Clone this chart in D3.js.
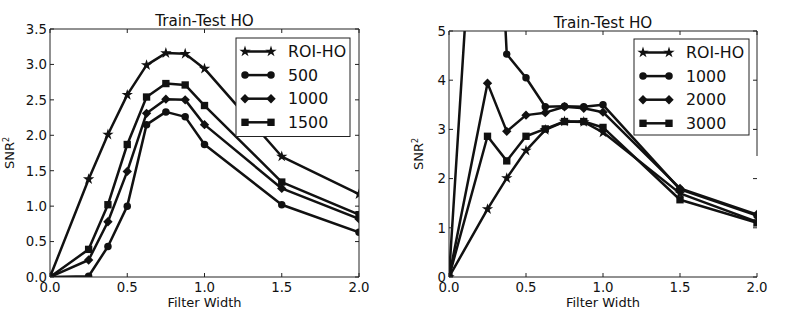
<!DOCTYPE html>
<html><head><meta charset="utf-8">
<script src="https://cdn.jsdelivr.net/npm/d3@7/dist/d3.min.js"></script>
<style>body{margin:0;background:#fff}svg{display:block;font-family:"DejaVu Sans",sans-serif}</style>
</head><body><svg id="c" width="797" height="309"></svg>
<script>
const filterWidths = [0, 0.25, 0.375, 0.5, 0.625, 0.75, 0.875, 1.0, 1.5, 2.0];
// Left panel
const leftNames = ["ROI-HO", "500", "1000", "1500"];
const leftROI  = [0, 1.38, 2.01, 2.57, 2.99, 3.16, 3.15, 2.94, 1.70, 1.17];
const left500  = [0, 0.01, 0.43, 1.00, 2.15, 2.33, 2.26, 1.87, 1.02, 0.63];
const left1000 = [0, 0.24, 0.78, 1.49, 2.31, 2.51, 2.50, 2.15, 1.25, 0.82];
const left1500 = [0, 0.39, 1.02, 1.87, 2.54, 2.73, 2.71, 2.42, 1.34, 0.88];
const leftYTicks = [0, 0.5, 1.0, 1.5, 2.0, 2.5, 3.0, 3.5];
// Right panel
const rightNames = ["ROI-HO", "1000", "2000", "3000"];
const rightROI  = [0, 1.38, 2.01, 2.57, 2.99, 3.16, 3.15, 2.94, 1.70, 1.12];
const right1000 = [0, 12.3, 4.53, 4.05, 3.46, 3.47, 3.46, 3.50, 1.78, 1.25];
const right2000 = [0, 3.94, 2.96, 3.29, 3.34, 3.46, 3.43, 3.35, 1.80, 1.27];
const right3000 = [0, 2.86, 2.36, 2.86, 3.01, 3.16, 3.16, 3.04, 1.57, 1.10];
const rightYTicks = [0, 1, 2, 3, 4, 5];
const xTicks = [0, 0.5, 1.0, 1.5, 2.0];
const markers = ["star", "circle", "diamond", "square"];

const svg = d3.select("#c");

function markerPath(type) {
  if (type === "star") return d3.symbol(d3.symbolStar, 40)();
  if (type === "circle") return d3.symbol(d3.symbolCircle, 44)();
  if (type === "diamond") return d3.symbol(d3.symbolSquare, 44)();
  return d3.symbol(d3.symbolSquare, 54)();
}
function markerRot(type) { return type === "diamond" ? 45 : 0; }

function panel(opt) {
  const {x0, x1, y0, y1, yMax, yTicks, yFmt, series, names, id, legend, rightSpineEnd, ylOff} = opt;
  const x = d3.scaleLinear().domain([0, 2]).range([x0, x1]);
  const y = d3.scaleLinear().domain([0, yMax]).range([y1, y0]);
  const g = svg.append("g");
  g.append("clipPath").attr("id", id).append("rect")
    .attr("x", x0).attr("y", y0).attr("width", x1 - x0).attr("height", y1 - y0);
  const plot = g.append("g").attr("clip-path", `url(#${id})`);
  const line = d3.line().x((d, i) => x(filterWidths[i])).y(d => y(d));
  series.forEach((s, k) => {
    plot.append("path").datum(s).attr("d", line).attr("fill", "none")
      .attr("stroke", "#111").attr("stroke-width", 2.5).attr("stroke-linejoin", "round");
    plot.selectAll(null).data(s).enter().append("path")
      .attr("d", markerPath(markers[k]))
      .attr("transform", (d, i) => `translate(${x(filterWidths[i])},${y(d)}) rotate(${markerRot(markers[k])})`)
      .attr("fill", "#111");
  });
  // spines
  const sp = "#222";
  g.append("line").attr("x1", x0).attr("x2", x0).attr("y1", y0).attr("y2", y1).attr("stroke", sp);
  g.append("line").attr("x1", x0).attr("x2", x1).attr("y1", y1).attr("y2", y1).attr("stroke", sp);
  g.append("line").attr("x1", x0).attr("x2", x1).attr("y1", y0).attr("y2", y0).attr("stroke", sp);
  g.append("line").attr("x1", x1).attr("x2", x1).attr("y1", y0).attr("y2", rightSpineEnd || y1).attr("stroke", sp);
  // ticks
  yTicks.forEach(t => {
    g.append("line").attr("x1", x0).attr("x2", x0 + 4).attr("y1", y(t)).attr("y2", y(t)).attr("stroke", sp);
    g.append("line").attr("x1", x1).attr("x2", x1 - 4).attr("y1", y(t)).attr("y2", y(t)).attr("stroke", sp);
    g.append("text").attr("x", x0 - 3).attr("y", y(t)).attr("dy", "0.36em")
      .attr("text-anchor", "end").attr("font-size", 13.3).attr("fill", "#111").text(yFmt(t));
  });
  xTicks.forEach(t => {
    g.append("line").attr("x1", x(t)).attr("x2", x(t)).attr("y1", y1).attr("y2", y1 - 4).attr("stroke", sp);
    g.append("line").attr("x1", x(t)).attr("x2", x(t)).attr("y1", y0).attr("y2", y0 + 4).attr("stroke", sp);
    g.append("text").attr("x", x(t)).attr("y", y1 + 14.5)
      .attr("text-anchor", "middle").attr("font-size", 13.3).attr("fill", "#111").text(d3.format(".1f")(t));
  });
  // labels
  g.append("text").attr("x", (x0 + x1) / 2).attr("y", y0 - 3).attr("text-anchor", "middle")
    .attr("font-size", 15.2).attr("fill", "#111").text("Train-Test HO");
  g.append("text").attr("x", (x0 + x1) / 2).attr("y", 307).attr("text-anchor", "middle")
    .attr("font-size", 13).attr("fill", "#111").text("Filter Width");
  const yl = g.append("text").attr("transform", `translate(${x0 - ylOff},${(y0 + y1) / 2}) rotate(-90)`)
    .attr("text-anchor", "middle").attr("font-size", 13).attr("fill", "#111");
  yl.append("tspan").text("SNR");
  yl.append("tspan").attr("dy", -5).attr("font-size", 8).text("2");
  // legend
  const L = legend;
  g.append("rect").attr("x", L.x).attr("y", L.y).attr("width", L.w).attr("height", L.h)
    .attr("fill", "#fff").attr("stroke", "#222");
  names.forEach((n, k) => {
    const yy = L.y + 13.5 + k * 23.6;
    g.append("line").attr("x1", L.x + 9).attr("x2", L.x + 35).attr("y1", yy).attr("y2", yy)
      .attr("stroke", "#111").attr("stroke-width", 2.5);
    [L.x + 9, L.x + 35].forEach(px => g.append("path").attr("d", markerPath(markers[k]))
      .attr("transform", `translate(${px},${yy}) rotate(${markerRot(markers[k])})`).attr("fill", "#111"));
    g.append("text").attr("x", L.x + L.tx).attr("y", yy).attr("dy", "0.36em")
      .attr("font-size", 15.8).attr("fill", "#111").text(n);
  });
}

panel({x0: 50, x1: 359, y0: 29, y1: 277, yMax: 3.5, yTicks: leftYTicks, yFmt: d3.format(".1f"),
  series: [leftROI, left500, left1000, left1500], names: leftNames, id: "clipL", ylOff: 36,
  legend: {x: 236, y: 38, w: 114, h: 98.5, tx: 52}});
panel({x0: 449, x1: 757, y0: 31, y1: 277, yMax: 5, yTicks: rightYTicks, yFmt: d3.format("d"),
  series: [rightROI, right1000, right2000, right3000], names: rightNames, id: "clipR", ylOff: 26,
  legend: {x: 634, y: 39, w: 115, h: 96, tx: 52}, rightSpineEnd: 156});
</script></body></html>
